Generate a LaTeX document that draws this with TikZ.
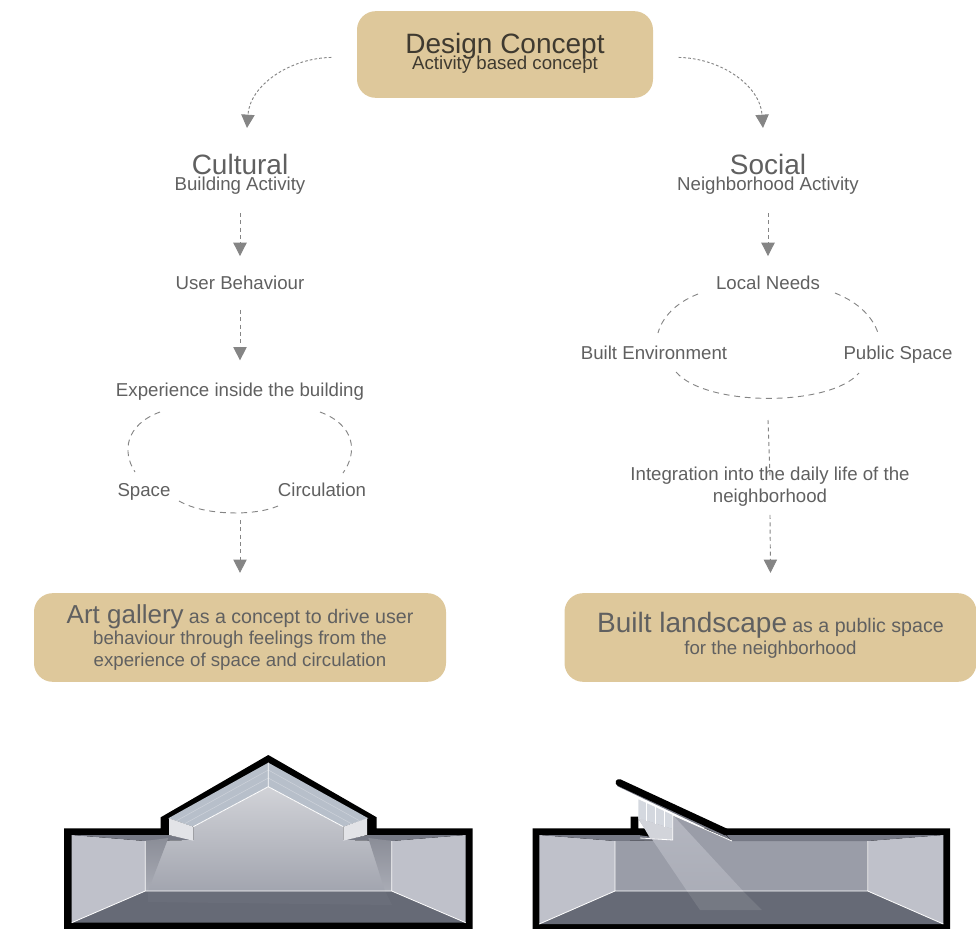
\documentclass[tikz,border=0pt]{standalone}
\usepackage{fontspec}
\setmainfont{Liberation Sans}
\usetikzlibrary{arrows.meta}
\definecolor{tanbox}{HTML}{DEC89B}
\definecolor{inkb}{HTML}{3F3A30}
\definecolor{inkl}{HTML}{606060}
\definecolor{flowg}{HTML}{858585}
\definecolor{sidew}{HTML}{BFC1CA}
\definecolor{backw}{HTML}{9A9DA8}
\definecolor{floorg}{HTML}{666A76}
\definecolor{ceilg}{HTML}{767985}
\definecolor{glassg}{HTML}{B7BFCA}
\newcommand{\bigf}[1]{{\fontsize{21}{21}\selectfont #1}}
\newcommand{\subf}[1]{{\fontsize{14}{14}\selectfont #1}}
\newcommand{\midf}[1]{{\fontsize{14.7}{16}\selectfont #1}}
\tikzset{
  boxn/.style={fill=tanbox,rounded corners=14pt,text=inkl,align=center,inner sep=0pt,
    font=\fontsize{14}{16}\selectfont},
  titlen/.style={text=inkl,align=center,inner sep=1pt,font=\fontsize{14}{16}\selectfont},
  labn/.style={text=inkl,align=center,inner sep=1pt,text height=12pt,text depth=2pt,
    font=\fontsize{14}{16.5}\selectfont},
  flow/.style={draw=flowg,line width=.7pt,dash pattern=on 3pt off 2.5pt,
    -{Triangle[width=10pt,length=10pt,fill=flowg]}},
  curveflow/.style={flow,dash pattern=on 2pt off 1.6pt},
  ring/.style={draw=flowg,line width=.7pt,dash pattern=on 4.5pt off 3.5pt},
  edge/.style={draw=white,line width=.6pt,line join=round}
}
\begin{document}
\begin{tikzpicture}[x=.75pt,y=-.75pt]
\useasboundingbox (0,0) rectangle (976,929);
\node[boxn,minimum width=222pt,minimum height=65pt,text=inkb,text depth=4.5pt] (concept) at (505,54.5) {\bigf{Design Concept}\\[-4.5pt]\subf{Activity based concept}};
\node[titlen] (cultural) at (240,174) {\bigf{Cultural}\\[-4pt]\subf{Building Activity}};
\node[titlen] (social) at (768,174) {\bigf{Social}\\[-4pt]\subf{Neighborhood Activity}};
\node[labn] (user) at (240,283) {User Behaviour};
\node[labn] (exp) at (240,390) {Experience inside the building};
\node[labn] (space) at (144,490) {Space};
\node[labn] (circ) at (322,490) {Circulation};
\node[labn] (local) at (768,283) {Local Needs};
\node[labn] (builtenv) at (654,353) {Built Environment};
\node[labn] (pubspace) at (898,353) {Public Space};
\node[labn] (integ) at (770,496) {Integration into the daily life of the\\neighborhood};
\node[boxn,minimum width=309pt,minimum height=66.5pt] (artbox) at (240,637.5) {{\fontsize{19.5}{21}\selectfont Art gallery} \midf{as a concept to drive user}\\behaviour through feelings from the\\experience of space and circulation};
\node[boxn,minimum width=309pt,minimum height=66.5pt,text depth=6pt] (landbox) at (770.5,637.5) {\bigf{Built landscape} \midf{as a public space}\\for the neighborhood};
\coordinate (ringl) at (240,520);
\coordinate (ringr) at (768,420);
\coordinate (tipl) at (247,128);
\coordinate (tipr) at (763,128);
\draw[curveflow,shorten <=19pt] (concept.181) .. controls (290,58) and (250,85) .. (tipl);
\draw[curveflow,shorten <=19pt] (concept.-1) .. controls (720,58) and (760,85) .. (tipr);
\draw[flow,shorten <=13pt,shorten >=12pt] (cultural.south) to (user.north);
\draw[flow,shorten <=13pt,shorten >=12pt] (social.south) to (local.north);
\draw[flow,shorten <=12pt,shorten >=14pt] (user.south) to (exp.north);
\draw[flow] (ringl) to ([yshift=15pt]artbox.north);
\draw[flow,-] (ringr) to ([yshift=6pt]integ.north);
\draw[flow] (integ.south) ++(0,8) to ([yshift=15pt]landbox.north);
\draw[ring] ([shift={(-80,22)}]exp.center) .. controls (125,425) and (122,452) .. ([shift={(-9,-18)}]space.center);
\draw[ring] ([shift={(80,22)}]exp.center) .. controls (355,425) and (358,452) .. ([shift={(21,-17)}]circ.center);
\draw[ring] ([shift={(35,11)}]space.center) .. controls (205,516) and (255,516) .. ([shift={(-44,16)}]circ.center);
\draw[ring] ([shift={(-70,11)}]local.center) .. controls (675,303) and (662,318) .. ([shift={(4,-20)}]builtenv.center);
\draw[ring] ([shift={(67,10)}]local.center) .. controls (860,303) and (873,318) .. ([shift={(-20,-20)}]pubspace.center);
\draw[ring] ([shift={(22,19)}]builtenv.center) .. controls (706,407) and (830,407) .. ([shift={(-39,20)}]pubspace.center);
% left section
\fill[black] (64,828.3) -- (160.7,828.3) -- (160.7,817.3) -- (268.3,755) -- (376.7,817.3) -- (376.7,828.3) -- (472.7,828.3) -- (472.7,929) -- (64,929) -- cycle;
\fill[floorg] (145.3,891) -- (391.7,891) -- (465.7,922.7) -- (71.7,922.7) -- cycle;
\fill[sidew] (71.7,835) -- (145.3,841) -- (145.3,891) -- (71.7,922.7) -- cycle;
\fill[sidew] (465.7,835) -- (391.7,841) -- (391.7,891) -- (465.7,922.7) -- cycle;
\fill[ceilg] (71.7,835) -- (168.3,835) -- (193.3,840) -- (145.3,841) -- cycle;
\fill[ceilg] (465.7,835) -- (368.3,835) -- (343.3,840) -- (391.7,841) -- cycle;
\shade[top color=backw!45!white,bottom color=backw!92!white] (145.3,891) -- (145.3,841) -- (193.3,840) -- (193.3,826.7) -- (268.3,786.7) -- (343.3,826.7) -- (343.3,840) -- (391.7,841) -- (391.7,891) -- cycle;
\shade[top color=backw!90!black,bottom color=backw!85!white] (145.3,841) -- (168.3,838) -- (148,891) -- (145.3,891) -- cycle;
\shade[top color=backw!90!black,bottom color=backw!85!white] (391.7,841) -- (368.3,838) -- (385,891) -- (391.7,891) -- cycle;
\fill[white,opacity=.03] (148,891) -- (385,891) -- (392,905) -- (148,902) -- cycle;
\fill[glassg] (168.3,818.3) -- (268.3,762.7) -- (368.3,818.3) -- (343.3,826.7) -- (268.3,786.7) -- (193.3,826.7) -- cycle;
\draw[glassg!70!white,line width=.4pt] (177,820.5) -- (268.3,770) -- (359,820.5) (185,823.5) -- (268.3,778) -- (351,823.5);
\fill[sidew!45!white] (169,818.3) -- (193.3,826.7) -- (193.3,840.7) -- (169,835) -- cycle;
\fill[sidew!45!white] (367,818.3) -- (343.3,826.7) -- (343.3,840.7) -- (367,835) -- cycle;
\draw[edge] (193.3,826.7) -- (268.3,786.7) -- (343.3,826.7) (268.3,762.7) -- (268.3,786.7);
\draw[edge] (71.7,922.7) -- (145.3,891) -- (145.3,841) (145.3,891) -- (391.7,891) -- (391.7,841) (391.7,891) -- (465.7,922.7);
% right section
\fill[black] (532.7,828.3) -- (630.7,828.3) -- (630.7,816.7) -- (638.3,816.7) -- (638.3,828.3) -- (950,828.3) -- (950,929) -- (532.7,929) -- cycle;
\fill[floorg] (615,891) -- (867.7,891) -- (943.3,924) -- (539.3,924) -- cycle;
\fill[sidew] (539.3,835) -- (615,841) -- (615,891) -- (539.3,924) -- cycle;
\fill[sidew] (943.3,835) -- (867.7,841) -- (867.7,891) -- (943.3,924) -- cycle;
\fill[backw] (615,841) -- (672.7,840) -- (672.7,815) -- (732,841) -- (867.7,841) -- (867.7,891) -- (615,891) -- cycle;
\fill[ceilg] (539.3,835) -- (638.3,835) -- (672.7,840) -- (615,841) -- cycle;
\fill[ceilg] (726.7,835) -- (943.3,835) -- (867.7,841) -- (732,841) -- cycle;
\shade[top color=sidew!70!backw,bottom color=sidew!45!backw] (639,820) -- (672.7,815) -- (743,891) -- (687,891) -- cycle;
\fill[white,opacity=.1] (687,891) -- (743,891) -- (762,910) -- (700,910) -- cycle;
\fill[glassg!60!white] (638.3,799.3) -- (672.7,815) -- (672.7,829) -- (638.3,818) -- cycle;
\fill[sidew!70!white] (638.3,818) -- (672.7,829) -- (672.7,840) -- (650,838) -- cycle;
\draw[white,line width=.4pt] (646.5,803) -- (646.5,821) (655.7,807) -- (655.7,824) (664,811) -- (664,827);
\fill[ceilg] (617,786) -- (732,841) -- (726,835) -- (622,781) -- cycle;
\draw[black,line width=5.2pt,line cap=round] (619,782.5) -- (726,832);
\draw[edge] (672.7,815) -- (672.7,840) -- (640,838);
\draw[edge] (672.7,815) -- (732,841);
\draw[edge] (539.3,924) -- (615,891) -- (615,841) (615,891) -- (867.7,891) -- (867.7,841) (867.7,891) -- (943.3,924);
\end{tikzpicture}
\end{document}
